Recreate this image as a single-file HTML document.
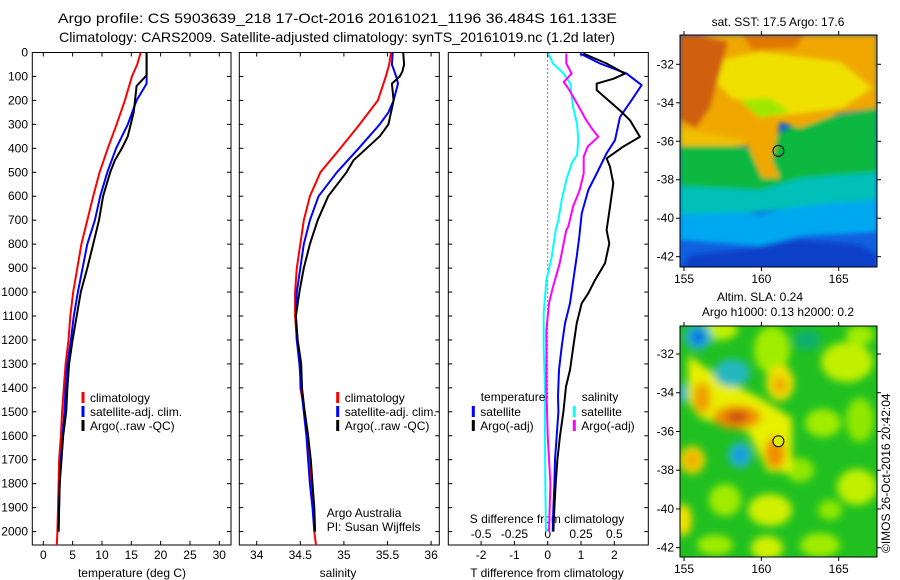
<!DOCTYPE html>
<html><head><meta charset="utf-8">
<style>
html,body{margin:0;padding:0;background:#fff;}
svg{display:block;font-family:"Liberation Sans",Arial,sans-serif;}
text{font-size:12px;fill:#000;}
</style></head>
<body>
<svg id="chart" width="900" height="580" viewBox="0 0 900 580" xmlns="http://www.w3.org/2000/svg">
<defs>
<filter id="blur1" x="-20%" y="-20%" width="140%" height="140%"><feGaussianBlur stdDeviation="2.5"/></filter>
<filter id="blur2" x="-20%" y="-20%" width="140%" height="140%"><feGaussianBlur stdDeviation="4"/></filter>
<clipPath id="clipTop"><rect x="680" y="35" width="197" height="232"/></clipPath>
<clipPath id="clipBot"><rect x="680" y="326" width="197" height="231"/></clipPath>
</defs>
<text x="58" y="23" style="font-size:14px" textLength="559" lengthAdjust="spacingAndGlyphs">Argo profile: CS 5903639_218 17-Oct-2016 20161021_1196 36.484S 161.133E</text>
<text x="59" y="42" style="font-size:14px" textLength="556" lengthAdjust="spacingAndGlyphs">Climatology: CARS2009. Satellite-adjusted climatology: synTS_20161019.nc (1.2d later)</text>

<!-- SST map -->
<g clip-path="url(#clipTop)">
<rect x="680" y="35" width="197" height="232" fill="#1060e0"/>
<g filter="url(#blur1)">
<polygon fill="#0a40c8" points="740,250 800,240 860,245 877,255 877,270 680,270 690,255"/>
<polygon fill="#00a8f0" points="680,200 760,215 820,198 877,200 877,232 800,236 760,246 680,240"/>
<polygon fill="#00c0b8" points="680,178 760,188 800,168 877,162 877,200 820,204 760,212 680,214"/>
<polygon fill="#10b840" points="680,138 760,150 770,138 800,122 877,108 877,172 800,178 760,190 680,186"/>
<polygon fill="#f0a800" points="680,35 877,35 877,108 840,113 800,128 780,122 772,160 780,178 762,178 748,146 680,146"/>
<polygon fill="#f0e000" points="722,60 760,52 840,62 872,88 842,108 800,113 776,116 760,104 732,98 716,82"/>
<polygon fill="#a0e800" points="740,100 770,98 790,112 760,118"/>
<polygon fill="#d06010" points="680,35 700,35 728,42 720,72 710,108 696,128 680,120"/>
<polygon fill="#e07800" points="742,35 805,35 795,48 752,50"/>
<polygon fill="#f0c000" points="680,128 700,132 745,140 745,146 680,146"/>
</g>
<circle cx="778.4" cy="150.9" r="5.5" fill="none" stroke="#000" stroke-width="1"/>
</g>
<rect x="680" y="35" width="197" height="232" fill="none" stroke="#000" stroke-width="1"/>
<text x="778" y="26" text-anchor="middle">sat. SST: 17.5 Argo: 17.6</text>

<!-- SLA map -->
<g clip-path="url(#clipBot)">
<rect x="680" y="326" width="197" height="231" fill="#20c020"/>
<g filter="url(#blur2)">
<ellipse cx="847" cy="362" rx="26" ry="20" fill="#c0f000"/>
<ellipse cx="772" cy="350" rx="18" ry="24" fill="#a0ec00"/>
<ellipse cx="823" cy="423" rx="18" ry="14" fill="#a0ec00"/>
<ellipse cx="860" cy="420" rx="14" ry="22" fill="#90e800"/>
<ellipse cx="857" cy="487" rx="20" ry="18" fill="#c0f000"/>
<ellipse cx="800" cy="470" rx="14" ry="12" fill="#90e800"/>
<ellipse cx="770" cy="510" rx="22" ry="16" fill="#d0f000"/>
<ellipse cx="767" cy="548" rx="16" ry="12" fill="#d0f000"/>
<ellipse cx="683" cy="520" rx="9" ry="16" fill="#f0e000"/>
<ellipse cx="725" cy="500" rx="16" ry="16" fill="#a0ec00"/>
<ellipse cx="715" cy="545" rx="18" ry="10" fill="#a0ec00"/>
<ellipse cx="820" cy="545" rx="20" ry="12" fill="#a0ec00"/>
<ellipse cx="830" cy="510" rx="12" ry="10" fill="#90e800"/>
<ellipse cx="720" cy="330" rx="18" ry="10" fill="#c0f000"/>
<ellipse cx="860" cy="335" rx="14" ry="10" fill="#a0ec00"/>
<ellipse cx="692" cy="460" rx="13" ry="14" fill="#f0d000"/>
<ellipse cx="692" cy="460" rx="6" ry="7" fill="#f0a800"/>
<polygon fill="#e8f000" points="688,355 720,378 760,398 792,418 792,472 768,472 748,432 700,418 688,402"/>
<ellipse cx="780" cy="383" rx="14" ry="18" fill="#f0e000"/>
<ellipse cx="780" cy="385" rx="6" ry="8" fill="#f0a000"/>
<ellipse cx="702" cy="398" rx="9" ry="16" fill="#f0a000"/>
<ellipse cx="737" cy="417" rx="24" ry="12" fill="#f09000"/>
<ellipse cx="737" cy="417" rx="11" ry="6" fill="#c85010"/>
<ellipse cx="775" cy="453" rx="10" ry="16" fill="#f09000"/>
<ellipse cx="698" cy="337" rx="14" ry="13" fill="#20b0d0"/>
<ellipse cx="698" cy="337" rx="7" ry="7" fill="#1070e0"/>
<ellipse cx="732" cy="373" rx="18" ry="14" fill="#20b8c0"/>
<ellipse cx="682" cy="393" rx="5" ry="10" fill="#20b0d0"/>
<ellipse cx="740" cy="455" rx="12" ry="13" fill="#20b0d0"/>
<ellipse cx="740" cy="455" rx="5" ry="6" fill="#1090e0"/>
<ellipse cx="807" cy="340" rx="14" ry="10" fill="#10b070"/>
</g>
<circle cx="778.4" cy="441.2" r="5.5" fill="#e0f000" stroke="#000" stroke-width="1"/>
</g>
<rect x="680" y="326" width="197" height="231" fill="none" stroke="#000" stroke-width="1"/>
<text x="760" y="301" text-anchor="middle">Altim. SLA: 0.24</text>
<text x="778" y="316" text-anchor="middle">Argo h1000: 0.13 h2000: 0.2</text>
<text transform="translate(890,553) rotate(-90)" style="font-size:12px">©IMOS 26-Oct-2016 20:42:04</text>
<g id="dyn"></g>
</svg>
<script>
// ---------- data ----------
const depthTicks = [0,100,200,300,400,500,600,700,800,900,1000,1100,1200,1300,1400,1500,1600,1700,1800,1900,2000];
const tempTicks = [0,5,10,15,20,25,30];
const salTicks = [34,34.5,35,35.5,36];
const salTickLabels = ["34","34.5","35","35.5","36"];
const tdiffTicks = [-2,-1,0,1,2];
const sdiffTicks = [-0.5,-0.25,0,0.25,0.5];
const sdiffTickLabels = ["-0.5","-0.25","0","0.25","0.5"];
const lonTicks = [155,160,165];
const latTicks = [-32,-34,-36,-38,-40,-42];

const tempClimDepth = [0,50,100,200,300,400,500,600,700,800,900,1000,1100,1200,1300,1400,1500,1600,1700,1800,1900,2000,2056];
const tempClim      = [16.6,16.0,15.1,13.9,12.5,11.0,9.6,8.5,7.5,6.5,5.8,5.1,4.6,4.3,3.8,3.5,3.2,3.0,2.7,2.6,2.5,2.4,2.3];
const tempSatDepth = [0,130,200,300,400,500,600,700,800,900,1000,1100,1200,1300,1400,1500,1600,1700,1800,1900,2000];
const tempSat      = [17.6,17.6,15.9,14.4,12.4,10.9,9.7,8.8,7.5,6.7,5.9,5.2,4.7,4.1,3.8,3.6,3.3,3.0,2.8,2.7,2.6];
const tempArgoDepth = [0,95,140,250,350,400,450,500,600,700,800,900,1000,1100,1200,1300,1400,1500,1600,1700,1800,1900,2000];
const tempArgo      = [17.6,17.6,15.9,15.4,14.4,13.4,12.2,11.4,10.2,9.5,8.5,7.5,6.4,5.7,5.0,4.4,4.1,3.9,3.4,3.1,2.8,2.7,2.6];

const salClimDepth = [0,50,100,200,300,400,500,600,700,800,900,1000,1100,1200,1300,1400,1500,1600,1700,1800,1900,2000,2056];
const salClim      = [35.54,35.52,35.48,35.39,35.18,34.96,34.73,34.61,34.54,34.50,34.46,34.44,34.44,34.46,34.50,34.50,34.55,34.59,34.61,34.63,34.65,34.66,34.68];
const salSatDepth = [0,50,100,130,200,250,300,400,500,600,700,800,900,1000,1100,1200,1300,1400,1500,1600,1700,1800,1900,2000];
const salSat      = [35.56,35.55,35.60,35.62,35.57,35.51,35.41,35.17,34.92,34.71,34.61,34.54,34.50,34.46,34.45,34.46,34.49,34.51,34.54,34.57,34.59,34.61,34.64,34.66];
const salArgoDepth = [0,50,80,100,130,200,300,350,400,450,500,600,700,800,900,1000,1100,1200,1300,1400,1500,1600,1700,1800,1900,2000];
const salArgo      = [35.68,35.69,35.67,35.64,35.55,35.57,35.51,35.41,35.26,35.11,35.03,34.82,34.70,34.61,34.54,34.49,34.45,34.47,34.51,34.52,34.55,34.59,34.62,34.64,34.66,34.67];

const tdSatDepth = [4,46,88,136,199,269,366,421,505,574,672,769,853,950,1047,1131,1228,1325,1436,1500,1600,1700,1800,1900,2000];
const tdSat      = [0.97,1.57,2.37,2.82,2.52,2.17,2.02,1.77,1.47,1.22,1.02,0.95,0.87,0.77,0.67,0.52,0.42,0.34,0.31,0.32,0.27,0.22,0.20,0.17,0.15];
const tdArgoDepth = [4,46,88,110,130,157,199,248,283,352,393,442,477,546,644,741,797,880,950,1005,1047,1131,1228,1325,1395,1500,1600,1700,1800,1900,2000];
const tdArgo      = [1.07,1.77,2.32,1.97,1.47,1.47,1.82,2.22,2.47,2.77,2.27,1.77,1.87,1.97,1.87,1.77,1.85,1.72,1.42,1.22,1.02,0.87,0.77,0.67,0.55,0.47,0.37,0.29,0.24,0.20,0.17];
const sdSatDepth = [4,46,88,130,227,297,366,428,463,532,616,699,741,853,950,1089,1228,1400,1600,1800,2000];
const sdSat      = [0.005,0.04,0.12,0.17,0.19,0.22,0.23,0.22,0.18,0.14,0.105,0.08,0.06,0.03,-0.01,-0.03,-0.03,-0.02,-0.02,-0.018,-0.013];
const sdArgoDepth = [4,46,88,123,150,213,283,324,352,393,435,505,574,644,727,741,880,978,1047,1158,1300,1400,1600,1800,2000];
const sdArgo      = [0.14,0.14,0.18,0.12,0.155,0.22,0.29,0.34,0.38,0.30,0.27,0.27,0.24,0.19,0.155,0.14,0.09,0.04,0.01,-0.01,-0.01,-0.01,0.0,0.02,0.01];

// ---------- axes ----------
const TOP=52.5, BOT=545, DMAX=2056;
const yD = d => TOP + d/DMAX*(BOT-TOP);
const P1={l:32.3,r:231,x0:43.3,k:5.867};
const P2={l:239.3,r:439.3,x0:256.7,s0:34,k:87.2};
const P3={l:448.3,r:648.3,x0:547.7,k:33.3,ks:133.2};
const xT = t => P1.x0 + t*P1.k;
const xS = s => P2.x0 + (s-P2.s0)*P2.k;
const xTD = t => P3.x0 + t*P3.k;
const xSD = s => P3.x0 + s*P3.ks;
const lonX = l => 684 + (l-155)*15.47;
const latYtop = la => 64.3 + (-32-la)*19.24;
const latYbot = la => 354 + (-32-la)*19.37;

const NS='http://www.w3.org/2000/svg';
const root=document.getElementById('dyn');
function mk(tag,attrs,parent){const e=document.createElementNS(NS,tag);for(const k in attrs)e.setAttribute(k,attrs[k]);(parent||root).appendChild(e);return e;}
function txt(s,x,y,anchor,parent){const e=mk('text',{x:x,y:y,'text-anchor':anchor||'start'},parent);e.textContent=s;return e;}

function panel(P,name){
  const g=mk('g',{});
  
  
  mk('rect',{x:P.l,y:TOP,width:P.r-P.l,height:BOT-TOP,fill:'none',stroke:'#000','stroke-width':1},g);
  depthTicks.forEach(d=>{
    mk('line',{x1:P.l,x2:P.l+4,y1:yD(d),y2:yD(d),stroke:'#000'},g);
    mk('line',{x1:P.r-4,x2:P.r,y1:yD(d),y2:yD(d),stroke:'#000'},g);
  });
  return g;
}
function series(xs,ds,fx,color,name,parent){
  const pts=xs.map((v,i)=>fx(v).toFixed(1)+','+yD(ds[i]).toFixed(1)).join(' ');
  const p=mk('polyline',{points:pts,fill:'none',stroke:color,'stroke-width':2,'stroke-linejoin':'round'},parent);
  
  
}
function legend(x,y,color,label,parent){
  mk('rect',{x:x-1.5,y:y-10,width:3,height:11,fill:color},parent);
  txt(label,x+7,y,'start',parent);
}

// panel 1
const g1=panel(P1,'temperature-panel');
const yl=mk('g',{});


depthTicks.forEach(d=>txt(String(d),28,yD(d)+4,'end',yl));
tempTicks.forEach(t=>{mk('line',{x1:xT(t),x2:xT(t),y1:BOT,y2:BOT-4,stroke:'#000'},g1);mk('line',{x1:xT(t),x2:xT(t),y1:TOP,y2:TOP+4,stroke:'#000'},g1);txt(String(t),xT(t),559,'middle',g1);});
txt('temperature (deg C)',132,577,'middle',g1);
series(tempClim,tempClimDepth,xT,'#ff0000','temp-climatology-line',g1);
series(tempSat,tempSatDepth,xT,'#0000ff','temp-satellite-line',g1);
series(tempArgo,tempArgoDepth,xT,'#000000','temp-argo-line',g1);
legend(83,402,'#ff0000','climatology',g1);
legend(83,416,'#0000ff','satellite-adj. clim.',g1);
legend(83,430,'#000000','Argo(..raw -QC)',g1);

// panel 2
const g2=panel(P2,'salinity-panel');
salTicks.forEach((s,i)=>{mk('line',{x1:xS(s),x2:xS(s),y1:BOT,y2:BOT-4,stroke:'#000'},g2);mk('line',{x1:xS(s),x2:xS(s),y1:TOP,y2:TOP+4,stroke:'#000'},g2);txt(salTickLabels[i],xS(s),559,'middle',g2);});
txt('salinity',338,577,'middle',g2);
series(salClim,salClimDepth,xS,'#ff0000','sal-climatology-line',g2);
series(salSat,salSatDepth,xS,'#0000ff','sal-satellite-line',g2);
series(salArgo,salArgoDepth,xS,'#000000','sal-argo-line',g2);
legend(337.7,402,'#ff0000','climatology',g2);
legend(337.7,416,'#0000ff','satellite-adj. clim.',g2);
legend(337.7,430,'#000000','Argo(..raw -QC)',g2);
txt('Argo Australia',326.7,517,'start',g2);
txt('PI: Susan Wijffels',326.7,531,'start',g2);

// panel 3
const g3=panel(P3,'difference-panel');
mk('line',{x1:P3.x0,x2:P3.x0,y1:TOP,y2:400,stroke:'#000','stroke-width':1,'stroke-dasharray':'1,3'},g3);
tdiffTicks.forEach(t=>{mk('line',{x1:xTD(t),x2:xTD(t),y1:BOT,y2:BOT-4,stroke:'#000'},g3);mk('line',{x1:xTD(t),x2:xTD(t),y1:TOP,y2:TOP+4,stroke:'#000'},g3);txt(String(t),xTD(t),559,'middle',g3);});
sdiffTicks.forEach((s,i)=>txt(sdiffTickLabels[i],xSD(s),538,'middle',g3));
txt('T difference from climatology',547,577,'middle',g3);
txt('S difference from climatology',547,523,'middle',g3);
series(sdSat,sdSatDepth,xSD,'#00ffff','sdiff-satellite-line',g3);
series(sdArgo,sdArgoDepth,xSD,'#ff00ff','sdiff-argo-line',g3);
series(tdSat,tdSatDepth,xTD,'#0000ff','tdiff-satellite-line',g3);
series(tdArgo,tdArgoDepth,xTD,'#000000','tdiff-argo-line',g3);
txt('temperature',480.7,401,'start',g3);
legend(473.3,416,'#0000ff','satellite',g3);
legend(473.3,430,'#000000','Argo(-adj)',g3);
txt('salinity',581.7,401,'start',g3);
legend(574.3,416,'#00ffff','satellite',g3);
legend(574.3,430,'#ff00ff','Argo(-adj)',g3);

// map axes
function mapAxes(top,bot,latY,name){
  const g=mk('g',{});
  
  
  lonTicks.forEach(l=>{mk('line',{x1:lonX(l),x2:lonX(l),y1:top,y2:top-4,stroke:'#000'},g);mk('line',{x1:lonX(l),x2:lonX(l),y1:bot,y2:bot+4,stroke:'#000'},g);txt(String(l),lonX(l),bot+16,'middle',g);});
  latTicks.forEach(la=>{mk('line',{x1:680,x2:676,y1:latY(la),y2:latY(la),stroke:'#000'},g);mk('line',{x1:877,x2:881,y1:latY(la),y2:latY(la),stroke:'#000'},g);txt(String(la),674,latY(la)+4,'end',g);});
}
mapAxes(35,267,latYtop,'sst-map-axes');
mapAxes(326,557,latYbot,'sla-map-axes');
</script>
</body></html>
